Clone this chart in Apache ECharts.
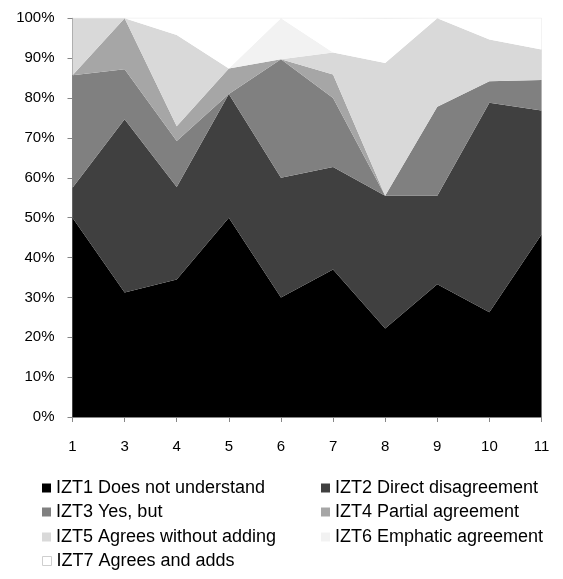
<!DOCTYPE html>
<html>
<head>
<meta charset="utf-8">
<script src="https://cdn.jsdelivr.net/npm/echarts@6/dist/echarts.min.js"></script>
<style>html,body{margin:0;padding:0;background:#fff;}#c{width:563px;height:579px;}</style>
</head>
<body>
<div id="c"></div>
<script>
var categories = ['1','3','4','5','6','7','8','9','10','11'];
var seriesNames = ['IZT1 Does not understand','IZT2 Direct disagreement','IZT3 Yes, but','IZT4 Partial agreement','IZT5 Agrees without adding','IZT6 Emphatic agreement','IZT7 Agrees and adds'];
var izt1 = [50, 31.2, 34.5, 50, 30, 37, 22.2, 33.3, 26.3, 45.8];
var izt2 = [7.5, 43.5, 23.2, 31, 30, 25.7, 33.3, 22.2, 52.5, 31.1];
var izt3 = [28.2, 12.5, 11.5, 0, 29.7, 17.3, 0, 22.3, 5.4, 7.6];
var izt4 = [0, 12.8, 3.7, 6.4, 0, 5.9, 0, 0, 0, 0];
var izt5 = [14.3, 0, 22.9, 0, 0, 5.5, 33.3, 22.2, 10.5, 7.7];
var izt6 = [0, 0, 0, 0, 10.3, 0, 0, 0, 0, 0];
var izt7 = [0, 0, 4.2, 12.6, 0, 8.6, 11.1, 0, 5.3, 7.8];

var colors = ['#000000','#404040','#808080','#a6a6a6','#d9d9d9','#f2f2f2','#ffffff'];
var values = [izt1, izt2, izt3, izt4, izt5, izt6, izt7];

var series = seriesNames.map(function(n, i){
  return {
    name: n, type: 'line', stack: 'total', data: values[i],
    showSymbol: false, symbol: 'none',
    lineStyle: {width: 0, opacity: 0},
    itemStyle: {color: colors[i]},
    areaStyle: {color: colors[i], opacity: 1},
    emphasis: {disabled: true},
    z: 2
  };
});

var legendFont = {fontFamily: '"Liberation Sans", Arial, sans-serif', fontSize: 18, color: '#000', lineHeight: 20};
var legendPos = [[42,488],[321,488],[42,512],[321,512],[42,537],[321,537],[42,561]];
var legends = seriesNames.map(function(n, i){
  var item = {name: n, icon: 'rect'};
  if (i === 6) item.itemStyle = {color: '#ffffff', borderColor: '#cfcfcf', borderWidth: 1};
  return {
    orient: 'horizontal', left: legendPos[i][0], top: legendPos[i][1] - 10,
    itemWidth: 9, itemHeight: 9, itemGap: 0, padding: 0,
    textStyle: legendFont, selectedMode: false, data: [item]
  };
});

var chart = echarts.init(document.getElementById('c'), null, {renderer: 'canvas'});
chart.setOption({
  animation: false,
  backgroundColor: '#ffffff',
  grid: {left: 72.5, right: 21.5, top: 18.3, bottom: 162, show: true, borderColor: '#e8e8e8', borderWidth: 1, backgroundColor: 'transparent'},
  xAxis: {
    type: 'category', data: categories, boundaryGap: false,
    axisLine: {lineStyle: {color: '#868686', width: 1}},
    axisTick: {show: true, alignWithLabel: true, interval: 0, length: 5, lineStyle: {color: '#868686'}},
    axisLabel: {interval: 0, margin: 22, fontSize: 15, color: '#000', fontFamily: '"Liberation Sans", Arial, sans-serif'},
    splitLine: {show: false}
  },
  yAxis: {
    type: 'value', min: 0, max: 100, interval: 10,
    axisLine: {show: true, lineStyle: {color: '#868686', width: 1}},
    axisTick: {show: true, length: 5, lineStyle: {color: '#868686'}},
    axisLabel: {margin: 18, fontSize: 15, color: '#000', fontFamily: '"Liberation Sans", Arial, sans-serif', formatter: '{value}%'},
    splitLine: {show: false}
  },
  legend: legends,
  series: series
});
</script>
</body>
</html>
